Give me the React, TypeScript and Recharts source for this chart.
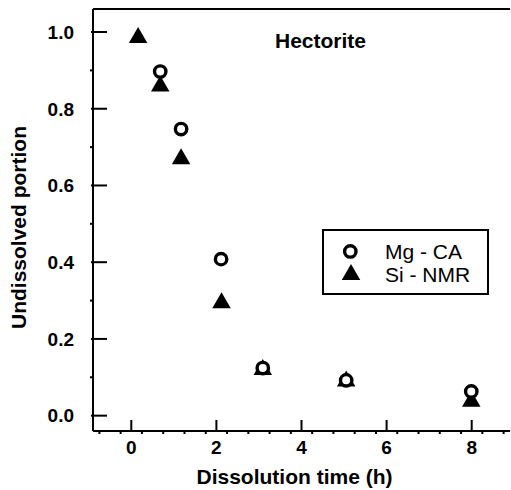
import { ScatterChart, Scatter, XAxis, YAxis, Legend } from 'recharts'

// Hectorite dissolution: undissolved fraction vs time
const mgTime = [0.68, 1.17, 2.11, 3.09, 5.05, 7.99]
const mgPortion = [0.897, 0.747, 0.408, 0.124, 0.092, 0.063]

const siTime = [0.16, 0.68, 1.17, 2.12, 3.09, 5.05, 7.99]
const siPortion = [0.985, 0.859, 0.669, 0.294, 0.12, 0.09, 0.037]

const seriesNames = ['Mg - CA', 'Si - NMR']

const xMajorTicks = [0, 2, 4, 6, 8]
const xMinorTicks = [-0.75, -0.25, 0.25, 0.75, 1.25, 1.75, 2.25, 2.75, 3.25, 3.75, 4.25, 4.75, 5.25, 5.75, 6.25, 6.75, 7.25, 7.75, 8.25, 8.75]
const yMajorTicks = [0, 0.2, 0.4, 0.6, 0.8, 1.0]
const yMinorTicks = [0.1, 0.3, 0.5, 0.7, 0.9]

const mgData = mgTime.map((t, i) => ({ t, v: mgPortion[i] }))
const siData = siTime.map((t, i) => ({ t, v: siPortion[i] }))

const FONT = '"Liberation Sans", Arial, Helvetica, sans-serif'
const INK = '#000'

const XTick = (props: any) => {
  const { x, y, payload } = props
  if (!xMajorTicks.includes(payload.value)) {
    return <line x1={x} x2={x} y1={y} y2={y + 3} stroke={INK} strokeWidth={2} />
  }
  return (
    <g>
      <line x1={x} x2={x} y1={y} y2={y - 11} stroke={INK} strokeWidth={2} />
      <text x={x} y={y + 22.5} textAnchor="middle" fontFamily={FONT} fontWeight="bold" fontSize={19} fill={INK}>
        {payload.value}
      </text>
    </g>
  )
}

const TopTick = (props: any) => {
  const { x, y } = props
  return <line x1={x} x2={x} y1={y} y2={y + 3} stroke={INK} strokeWidth={2} />
}

const YTick = (props: any) => {
  const { x, y, payload } = props
  if (!yMajorTicks.includes(payload.value)) {
    return <line x1={x - 3} x2={x} y1={y} y2={y} stroke={INK} strokeWidth={2} />
  }
  return (
    <g>
      <line x1={x - 2} x2={x + 14} y1={y} y2={y} stroke={INK} strokeWidth={2} />
      <text x={x - 19} y={y + 6.8} textAnchor="end" fontFamily={FONT} fontWeight="bold" fontSize={19} fill={INK}>
        {payload.value.toFixed(1)}
      </text>
    </g>
  )
}

const Ring = (p: any) => (
  <circle cx={p.cx} cy={p.cy} r={5.7} fill="#fff" stroke={INK} strokeWidth={3.4} />
)

const Tri = (p: any) => {
  const h = 16
  const w = 18.5
  const { cx, cy } = p
  const pts = `${cx},${cy - (2 * h) / 3} ${cx + w / 2},${cy + h / 3} ${cx - w / 2},${cy + h / 3}`
  return <polygon points={pts} fill={INK} />
}

const LegendBox = (props: any) => {
  const items = [...(props.payload || [])].sort(
    (a: any, b: any) => seriesNames.indexOf(a.value) - seriesNames.indexOf(b.value),
  )
  return (
    <svg width={167} height={66} style={{ display: 'block' }}>
      <rect x={1} y={1} width={165} height={64} fill="#fff" stroke={INK} strokeWidth={2} />
      {items.map((it: any, i: number) => {
        const cy = 22.4 + i * 23.3
        return (
          <g key={it.value}>
            {it.value === seriesNames[0] ? <Ring cx={28.3} cy={cy} /> : <Tri cx={29} cy={cy} />}
            <text x={63} y={cy + 7.5} fontFamily={FONT} fontSize={21} fill={INK}>
              {it.value}
            </text>
          </g>
        )
      })}
    </svg>
  )
}

export default function App() {
  return (
    <div style={{ position: 'absolute', left: 0, top: 0, width: 511, height: 490, background: '#fff' }}>
      <ScatterChart width={511} height={490} margin={{ top: 8, right: 1, bottom: 0, left: 0 }}>
        <XAxis
          dataKey="t"
          type="number"
          domain={[-0.9, 8.9]}
          ticks={[...xMajorTicks, ...xMinorTicks].sort((a, b) => a - b)}
          interval={0}
          allowDataOverflow
          height={59}
          tickSize={0}
          tickMargin={0}
          tickLine={false}
          tick={<XTick />}
          axisLine={{ stroke: INK, strokeWidth: 2 }}
          label={{
            content: () => (
              <text x={294.5} y={484} textAnchor="middle" fontFamily={FONT} fontWeight="bold" fontSize={21} fill={INK}>
                Dissolution time (h)
              </text>
            ),
          }}
        />
        <XAxis
          xAxisId="top"
          orientation="top"
          type="number"
          domain={[-0.9, 8.9]}
          ticks={xMinorTicks}
          interval={0}
          allowDataOverflow
          height={1}
          tickSize={0}
          tickMargin={0}
          tickLine={false}
          tick={<TopTick />}
          axisLine={{ stroke: INK, strokeWidth: 2 }}
          label={{
            content: () => (
              <text x={320.5} y={48.3} textAnchor="middle" fontFamily={FONT} fontWeight="bold" fontSize={21} fill={INK}>
                Hectorite
              </text>
            ),
          }}
        />
        <YAxis
          dataKey="v"
          type="number"
          domain={[-0.04, 1.06]}
          ticks={[...yMajorTicks, ...yMinorTicks].sort((a, b) => a - b)}
          interval={0}
          allowDataOverflow
          width={93}
          tickSize={0}
          tickMargin={0}
          tickLine={false}
          tick={<YTick />}
          axisLine={{ stroke: INK, strokeWidth: 2 }}
          label={{
            content: () => (
              <text
                x={26}
                y={227.5}
                transform="rotate(-90, 26, 227.5)"
                textAnchor="middle"
                fontFamily={FONT}
                fontWeight="bold"
                fontSize={21}
                fill={INK}
              >
                Undissolved portion
              </text>
            ),
          }}
        />
        <Legend
          layout="vertical"
          align="center"
          verticalAlign="middle"
          content={<LegendBox />}
          wrapperStyle={{ position: 'absolute', left: 322, top: 229, width: 167, height: 66 }}
        />
        <Scatter name={seriesNames[1]} data={siData} shape={<Tri />} isAnimationActive={false} legendType="triangle" />
        <Scatter name={seriesNames[0]} data={mgData} shape={<Ring />} isAnimationActive={false} legendType="circle" />
      </ScatterChart>
    </div>
  )
}
